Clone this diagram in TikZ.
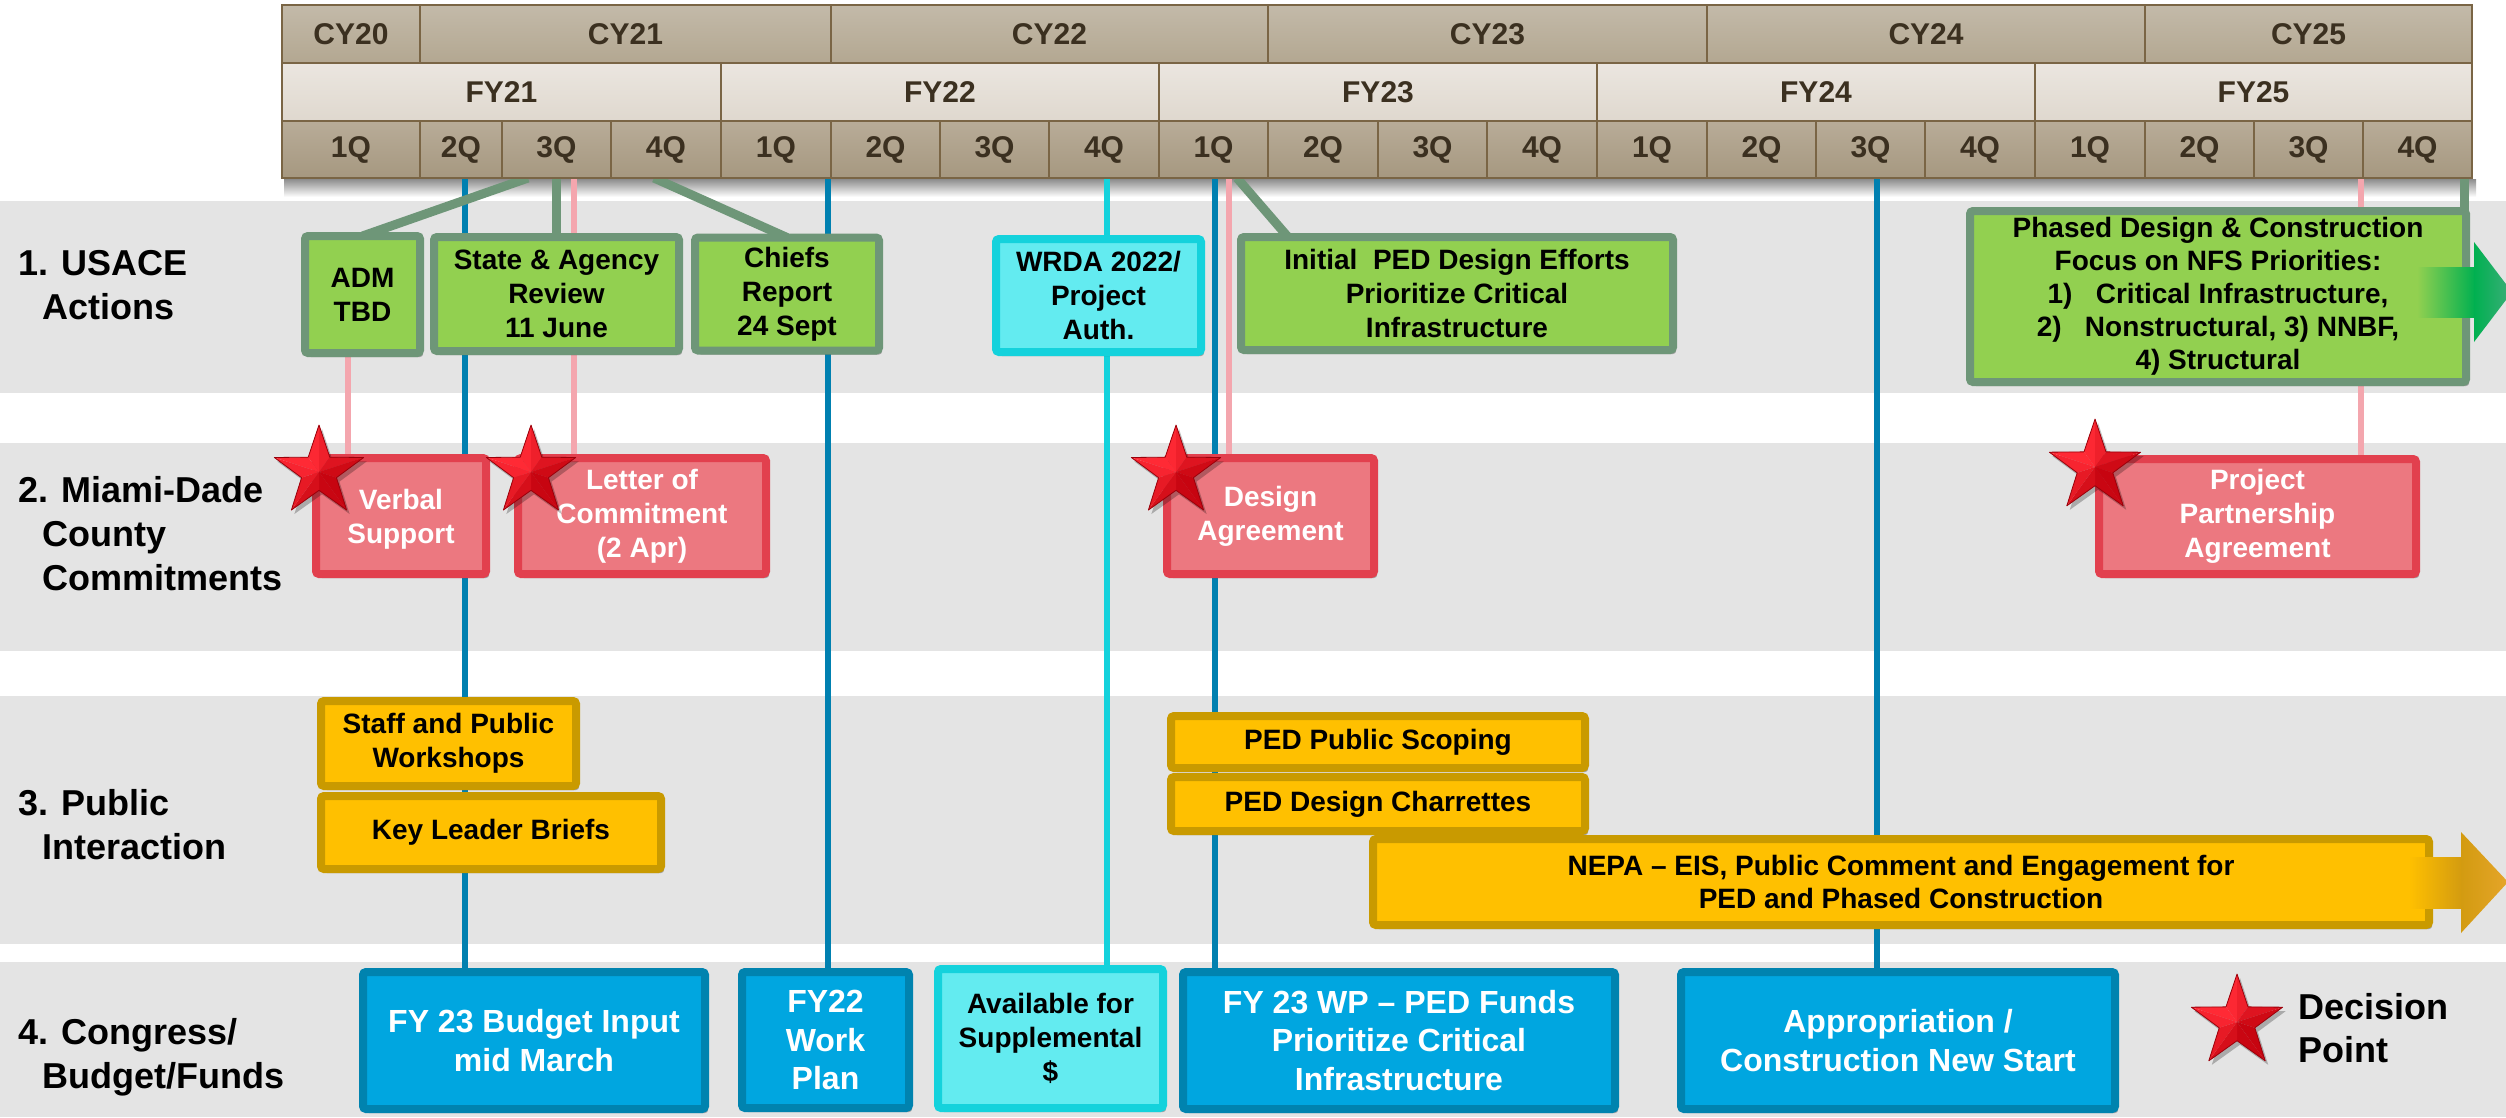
\documentclass[tikz,border=0pt]{standalone}
\usepackage{fontspec}
\setmainfont{Liberation Sans}
\usetikzlibrary{shadows}
\definecolor{bandgray}{HTML}{E4E4E4}
\definecolor{gfill}{HTML}{92D050}
\definecolor{gline}{HTML}{6E9678}
\definecolor{cfill}{HTML}{63EBF0}
\definecolor{cline}{HTML}{14D2DC}
\definecolor{pfill}{HTML}{EC7880}
\definecolor{pline}{HTML}{E2404E}
\definecolor{pinkline}{HTML}{F4A6AE}
\definecolor{yfill}{HTML}{FFC000}
\definecolor{yline}{HTML}{C99A00}
\definecolor{bfill}{HTML}{00A6E0}
\definecolor{bline}{HTML}{0083AF}
\definecolor{vline}{HTML}{0080B0}
\definecolor{hdrtext}{HTML}{3B3020}
\definecolor{hdrline}{HTML}{7A6545}
\definecolor{cytop}{HTML}{C3BAA9}
\definecolor{cybot}{HTML}{B3A791}
\definecolor{fytop}{HTML}{EBE6E0}
\definecolor{fybot}{HTML}{DFD8CE}
\definecolor{qtop}{HTML}{B8AC98}
\definecolor{qbot}{HTML}{A69880}
\definecolor{arrgreen}{HTML}{00B050}
\definecolor{arrtip}{HTML}{3DAE7A}
\definecolor{goldA}{HTML}{D39B10}
\definecolor{goldB}{HTML}{E5A52A}
\definecolor{starhi}{HTML}{FF2A35}
\definecolor{starlo}{HTML}{C0000C}
\definecolor{staredge}{HTML}{9A000A}
\pgfdeclarelayer{bands}
\pgfdeclarelayer{lines}
\pgfsetlayers{bands,lines,main}
\newcommand\decstar[3]{%
 \begin{scope}[shift={(#1,#2)}]
  \fill[black,opacity=.25,shift={(3,4)}] (-90:#3) -- (-54:{0.39*#3}) -- (-18:#3) -- (18:{0.39*#3}) -- (54:#3) -- (90:{0.39*#3}) -- (126:#3) -- (162:{0.39*#3}) -- (198:#3) -- (234:{0.39*#3}) -- cycle;
  \foreach \a in {-90,-18,54,126,198}{
    \pgfmathsetmacro\stA{55+45*cos(18-\a-135)}
    \pgfmathsetmacro\stB{55+45*cos(-18-\a-135)}
    \fill[starhi!\stA!starlo] (0,0) -- (\a:#3) -- ({\a-36}:{0.39*#3}) -- cycle;
    \fill[starhi!\stB!starlo] (0,0) -- (\a:#3) -- ({\a+36}:{0.39*#3}) -- cycle;
  }
  \draw[staredge,line width=0.8pt,line join=round] (-90:#3) -- (-54:{0.39*#3}) -- (-18:#3) -- (18:{0.39*#3}) -- (54:#3) -- (90:{0.39*#3}) -- (126:#3) -- (162:{0.39*#3}) -- (198:#3) -- (234:{0.39*#3}) -- cycle;
 \end{scope}}
\tikzset{
 hdr/.style={draw=hdrline, line width=2.5pt, inner sep=0pt, outer sep=0pt, text=hdrtext, font=\bfseries\fontsize{30}{36}\selectfont},
 cycell/.style={hdr, top color=cytop, bottom color=cybot, minimum height=58pt},
 fycell/.style={hdr, top color=fytop, bottom color=fybot, minimum height=58pt},
 qcell/.style={hdr, top color=qtop, bottom color=qbot, minimum height=57pt},
 box/.style={rounded corners=3pt, line width=8pt, align=center, inner sep=0pt, outer sep=0pt, font=\bfseries\fontsize{28}{34}\selectfont, drop shadow={shadow xshift=3pt, shadow yshift=-4pt, opacity=.3, fill=black}},
 sz/.style 2 args={minimum width=#1pt, minimum height=#2pt},
 gbox/.style={box, draw=gline, fill=gfill, text=black},
 cbox/.style={box, draw=cline, fill=cfill, text=black},
 pbox/.style={box, draw=pline, fill=pfill, text=white},
 ybox/.style={box, draw=yline, fill=yfill, text=black},
 bbox/.style={box, draw=bline, fill=bfill, text=white, font=\bfseries\fontsize{32}{38.5}\selectfont},
 rowlab/.style={anchor=west, align=left, inner sep=0pt, text=black, font=\bfseries\fontsize{36}{44}\selectfont},
 vblue/.style={draw=vline, line width=6pt},
 vcyan/.style={draw=cline, line width=6pt},
 vpink/.style={draw=pinkline, line width=6pt},
 vgreen/.style={draw=gline, line width=9pt},
}
\begin{document}
\begin{tikzpicture}[x=1pt, y=-1pt]
\useasboundingbox (0,0) rectangle (2506,1117);
\begin{pgfonlayer}{bands}
 \fill[white] (0,0) rectangle (2506,1117);
 \shade[top color=black!45, bottom color=white] (284,179) rectangle (2476,197);
 \fill[bandgray] (0,201) rectangle (2506,393);
 \fill[bandgray] (0,443) rectangle (2506,651);
 \fill[bandgray] (0,696) rectangle (2506,944);
 \fill[bandgray] (0,962) rectangle (2506,1117);
\end{pgfonlayer}

% header
\foreach \xa/\xb/\lab in {282/420/CY20,420/831/CY21,831/1268/CY22,1268/1707/CY23,1707/2145/CY24,2145/2472/CY25}
  \node[cycell, minimum width={\xb-\xa}] (\lab) at ({(\xa+\xb)/2},34) {\lab};
\foreach \xa/\xb/\lab in {282/721/FY21,721/1159/FY22,1159/1597/FY23,1597/2035/FY24,2035/2472/FY25}
  \node[fycell, minimum width={\xb-\xa}] (\lab) at ({(\xa+\xb)/2},92) {\lab};
\foreach \xa/\xb/\lab [count=\i] in {282/420/1Q,420/502/2Q,502/611/3Q,611/721/4Q,721/831/1Q,831/940/2Q,940/1049/3Q,1049/1159/4Q,1159/1268/1Q,1268/1378/2Q,1378/1487/3Q,1487/1597/4Q,1597/1707/1Q,1707/1816/2Q,1816/1925/3Q,1925/2035/4Q,2035/2145/1Q,2145/2254/2Q,2254/2363/3Q,2363/2472/4Q}
  \node[qcell, minimum width={\xb-\xa}] (q\i) at ({(\xa+\xb)/2},149.5) {\lab};

% row labels
\node[rowlab] (lab1) at (18,285.5) {1. USACE\\\hspace*{24pt}Actions};
\node[rowlab] (lab2) at (18,533.5) {2. Miami-Dade\\\hspace*{24pt}County\\\hspace*{24pt}Commitments};
\node[rowlab] (lab3) at (18,824.5) {3. Public\\\hspace*{24pt}Interaction};
\node[rowlab] (lab4) at (18,1057) {4. Congress/\\\hspace*{24pt}Budget/Funds};

% row 1
\node[gbox, sz={115}{117}] (adm) at (362.5,294.5) {ADM\\TBD};
\node[gbox, sz={245}{114}] (state) at (556.5,294) {State \& Agency\\Review\\11 June};
\node[gbox, sz={184}{113}] (chiefs) at (787,294) {Chiefs\\Report\\24 Sept};
\node[cbox, sz={205}{113}] (wrda) at (1098.5,295.5) {WRDA 2022/\\Project\\Auth.};
\node[gbox, sz={432}{113}] (initped) at (1457,293.5) {Initial\ \ PED Design Efforts\\Prioritize Critical\\Infrastructure};
\node[gbox, sz={496}{171}, font=\bfseries\fontsize{28}{33}\selectfont] (phased) at (2218,296.5) {Phased Design \& Construction\\Focus on NFS Priorities:\\1)\ \ \ Critical Infrastructure,\\2)\ \ \ Nonstructural, 3) NNBF,\\4) Structural};

% row 2
\node[pbox, sz={170}{116}, text depth=0pt] (verbal) at (401,516) {Verbal\\Support};
\node[pbox, sz={248}{116}] (letter) at (642,516) {Letter of\\Commitment\\(2 Apr)};
\node[pbox, sz={207}{116}] (design) at (1270.5,516) {Design\\Agreement};
\node[pbox, sz={317}{115}] (ppa) at (2257.5,516.5) {Project\\Partnership\\Agreement};

% row 3
\node[ybox, sz={255}{85}] (staff) at (448.5,743.5) {Staff and Public\\Workshops};
\node[ybox, sz={340}{73}] (keyl) at (491,832.5) {Key Leader Briefs};
\node[ybox, sz={414}{52}] (pedscope) at (1378,742) {PED Public Scoping};
\node[ybox, sz={414}{54}] (pedchar) at (1378,804) {PED Design Charrettes};
\node[ybox, sz={1056}{86}, font=\bfseries\fontsize{28}{33}\selectfont] (nepa) at (1901,882) {NEPA – EIS, Public Comment and Engagement for\\PED and Phased Construction};

% row 4
\node[bbox, sz={342}{137}] (budget) at (534,1040.5) {FY 23 Budget Input\\mid March};
\node[bbox, sz={167}{136}] (fy22wp) at (825.5,1040) {FY22\\Work\\Plan};
\node[cbox, sz={225}{139}] (avail) at (1050.5,1038.5) {Available for\\Supplemental\\\$};
\node[bbox, sz={432}{137}] (fy23wp) at (1399,1040.5) {FY 23 WP – PED Funds\\Prioritize Critical\\Infrastructure};
\node[bbox, sz={434}{137}] (approp) at (1898,1040.5) {Appropriation /\\Construction New Start};

% legend
\node[anchor=west, align=left, inner sep=0pt, font=\bfseries\fontsize{36}{43}\selectfont] (legend) at (2298,1028.5) {Decision\\Point};

% connector end points at header bottom
\coordinate (tb1) at (465,178);
\coordinate (tb2) at (828,178);
\coordinate (tb3) at (1215,178);
\coordinate (tb4) at (1877,178);
\coordinate (tc1) at (1107,178);
\coordinate (tp1) at (348,0);
\coordinate (tp2) at (574,178);
\coordinate (tp3) at (1229,178);
\coordinate (tp4) at (2361,178);
\coordinate (tg1) at (528,178);
\coordinate (tg2) at (556,178);
\coordinate (tg3) at (654,178);
\coordinate (tg4) at (1237,178);
\coordinate (tg5) at (2464,178);

\begin{pgfonlayer}{lines}
 \draw[vblue] (tb1) -- (tb1 |- budget.north);
 \draw[vblue] (tb2) -- (tb2 |- fy22wp.north);
 \draw[vblue] (tb3) -- (tb3 |- fy23wp.north);
 \draw[vblue] (tb4) -- (tb4 |- approp.north);
 \draw[vcyan] (tc1) -- (tc1 |- avail.north);
 \draw[vpink] (tp1 |- adm.south) -- (tp1 |- verbal.north);
 \draw[vpink] (tp2) -- (tp2 |- letter.north);
 \draw[vpink] (tp3) -- (tp3 |- design.north);
 \draw[vpink] (tp4) -- (tp4 |- ppa.north);
 \draw[vgreen] (tg1) -- (adm.north);
 \draw[vgreen] (tg2) -- (tg2 |- state.north);
 \draw[vgreen] (tg3) -- (chiefs.north);
 \draw[vgreen] (tg4) -- ([xshift=47pt]initped.north west);
 \draw[vgreen] (tg5) -- (tg5 |- phased.north);
\end{pgfonlayer}

% continuation arrows
\shade[left color=gfill, right color=arrgreen] (2417,267) rectangle (2475,317);
\shade[left color=arrgreen, right color=arrtip] (2474,242) -- (2512,292) -- (2474,342) -- cycle;
\shade[left color=yfill, right color=goldA] (2409,857) rectangle (2462,908);
\shade[left color=goldA, right color=goldB] (2461,832) -- (2508,882) -- (2461,933) -- cycle;

% decision stars
\decstar{319}{472}{47}
\decstar{531}{472}{47}
\decstar{1176}{472}{47}
\decstar{2095}{467}{48}
\decstar{2237}{1022}{48}
\end{tikzpicture}
\end{document}
